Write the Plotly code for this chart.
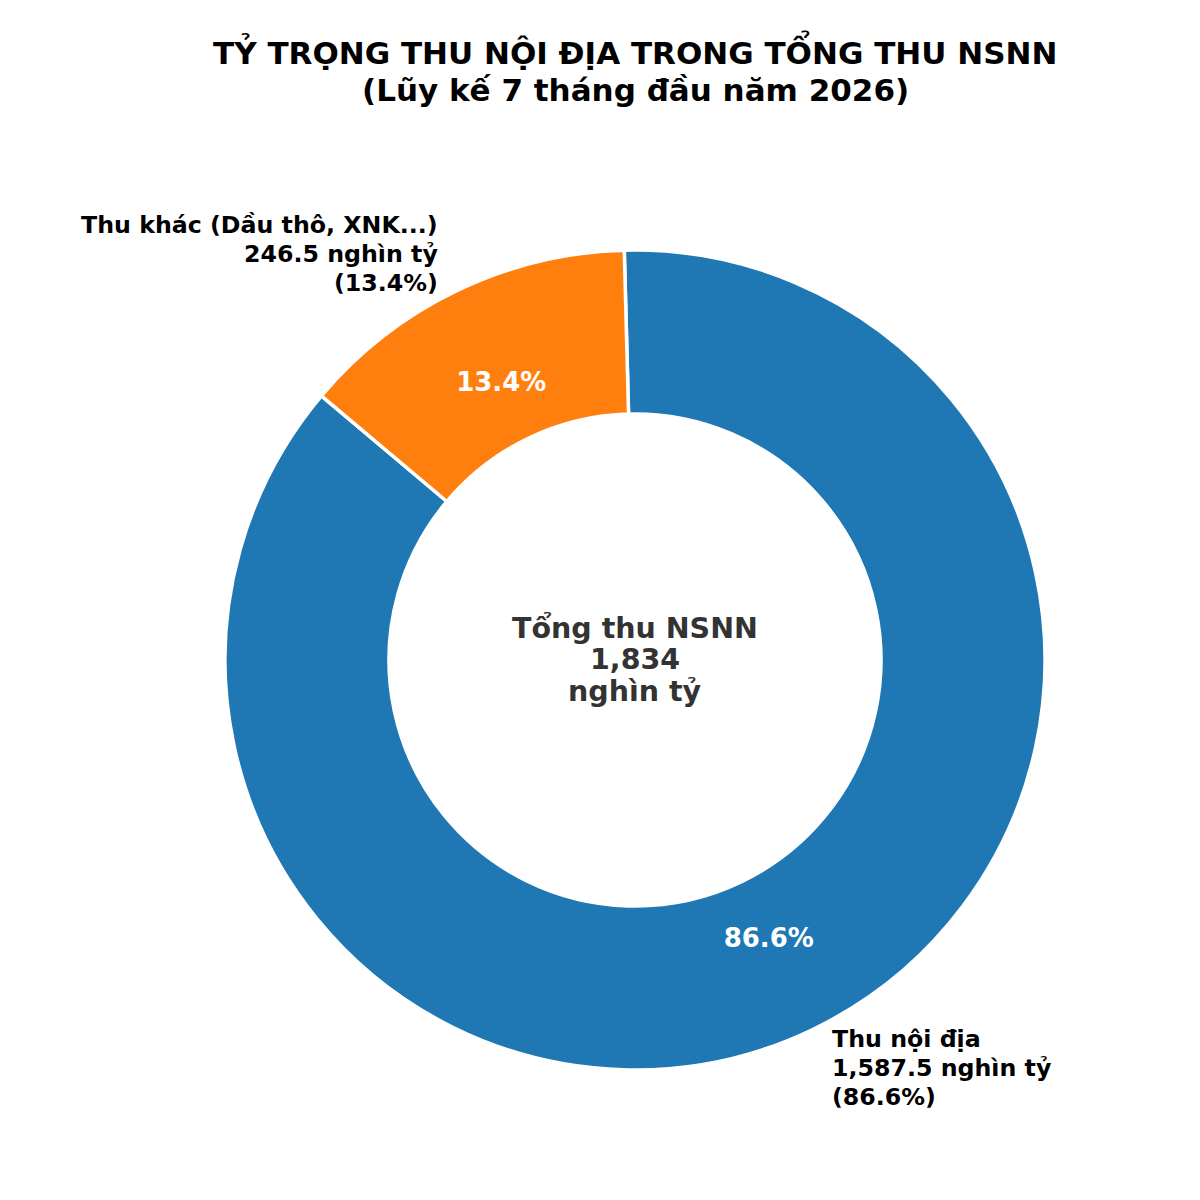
import plotly.graph_objects as go

# số liệu lũy kế 7 tháng (nghìn tỷ đồng)
labels = ['Thu nội địa', 'Thu khác (Dầu thô, XNK...)']
values = [1587.5, 246.5]
colors = ['#1f77b4', '#ff7f0e']
total_label = '1,834'
title_lines = ['TỶ TRỌNG THU NỘI ĐỊA TRONG TỔNG THU NSNN', '(Lũy kế 7 tháng đầu năm 2026)']

FONT = 'DejaVu Sans'
W = 1200
OFF = 8  # lề body của trang html


def px(x):
    return (x - OFF) / W


def py(y):
    return 1 - (y - OFF) / W


# tâm và bán kính vòng tròn (pixel ảnh gốc)
cx, cy, R = 635, 660, 410
dom = dict(x=[px(cx - R), px(cx + R)], y=[py(cy + R), py(cy - R)])

fig = go.Figure()
fig.add_trace(go.Pie(
    labels=labels,
    values=values,
    hole=0.6,
    sort=False,
    direction='clockwise',
    rotation=-1.5,
    marker=dict(colors=colors, line=dict(color='white', width=3.5)),
    textinfo='none',
    hoverinfo='label+value+percent',
    domain=dom,
    showlegend=False,
))
# lớp trong suốt chỉ để đặt chữ phần trăm gần tâm hơn
fig.add_trace(go.Pie(
    labels=labels,
    values=values,
    hole=0.505,
    sort=False,
    direction='clockwise',
    rotation=-1.5,
    marker=dict(colors=['rgba(0,0,0,0)'] * 2, line=dict(width=0)),
    texttemplate='<b>%{percent:.1%}</b>',
    textposition='inside',
    insidetextorientation='horizontal',
    textfont=dict(family=FONT, size=26, color='white'),
    hoverinfo='skip',
    domain=dom,
    showlegend=False,
))

pct = [v / sum(values) * 100 for v in values]


def add_lines(lines, x, ys, anchor, size, color):
    for txt, y in zip(lines, ys):
        fig.add_annotation(
            x=px(x), y=py(y), xref='paper', yref='paper',
            xanchor=anchor, yanchor='middle', showarrow=False,
            text='<b>%s</b>' % txt,
            font=dict(family=FONT, size=size, color=color),
        )


# tiêu đề
add_lines(title_lines, 635, [50, 90], 'center', 31, 'black')

# nhãn bên ngoài
add_lines([labels[1], '%.1f nghìn tỷ' % values[1], '(%.1f%%)' % pct[1]],
          440, [225, 254, 283], 'right', 23.7, 'black')
add_lines([labels[0], '%s nghìn tỷ' % f'{values[0]:,.1f}', '(%.1f%%)' % pct[0]],
          830, [1039, 1068, 1097], 'left', 23.7, 'black')

# chữ giữa vòng
add_lines(['Tổng thu NSNN', total_label, 'nghìn tỷ'],
          635, [628, 659, 692], 'center', 28.5, '#333333')

fig.update_layout(
    width=1200, height=1200,
    paper_bgcolor='white', plot_bgcolor='white',
    margin=dict(l=0, r=0, t=0, b=0),
)

fig.write_html('out.html')
